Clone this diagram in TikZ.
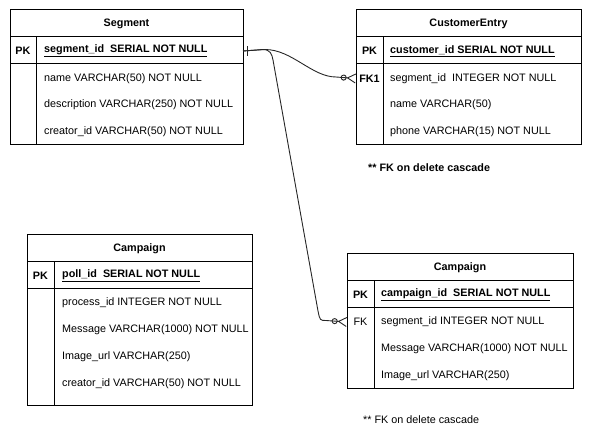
\documentclass[tikz,border=0pt]{standalone}
\usepackage{fontspec}
\setmainfont{Liberation Sans}
\usetikzlibrary{arrows.meta}

\tikzset{
    every node/.style={font=\fontsize{10.8}{12}\selectfont, inner sep=0pt, yshift=-1.5pt},
    tbl/.style={line width=1pt},
    hdr/.style={font=\fontsize{10.8}{12}\selectfont\bfseries},
    key/.style={font=\fontsize{10.8}{12}\selectfont\bfseries},
    field/.style={anchor=west},
    link/.style={line width=0.9pt, draw=black!85},
    many/.style={-{Circle[open,length=6pt,sep=0pt] Straight Barb[reversed,length=8pt,width=9pt]}}
}

\begin{document}
\begin{tikzpicture}[x=1pt, y=-1pt]
    \useasboundingbox (0,0) rectangle (591,442);

    % Segment
    \draw[tbl] (10,9) rectangle (243,144);
    \draw[tbl] (10,36) -- (243,36) (10,63) -- (243,63) (36,36) -- (36,144);
    \node[hdr] (segtitle) at (126.5,22.5) {Segment};
    \node[key] (segkey) at (23,49.5) {PK};
    \node[field, font=\fontsize{10.8}{12}\selectfont\bfseries] (segid) at (44,49.5) {\underline{segment\_id\ \ SERIAL NOT NULL}};
    \node[field] (segname) at (44,77) {name VARCHAR(50) NOT NULL};
    \node[field] (segdesc) at (44,103.5) {description VARCHAR(250) NOT NULL};
    \node[field] (segcreator) at (44,130.5) {creator\_id VARCHAR(50) NOT NULL};
    \coordinate (segR) at (243,49.5);

    % CustomerEntry
    \draw[tbl] (356,9) rectangle (581,144);
    \draw[tbl] (356,36) -- (581,36) (356,63) -- (581,63) (383,36) -- (383,144);
    \node[hdr] (custtitle) at (468.5,22.5) {CustomerEntry};
    \node[key] (custkey) at (369.5,49.5) {PK};
    \node[key] (custfk) at (369.5,77) {FK1};
    \node[field, font=\fontsize{10.8}{12}\selectfont\bfseries] (custid) at (390,49.5) {\underline{customer\_id SERIAL NOT NULL}};
    \node[field] (custseg) at (390,77) {segment\_id\ \ INTEGER NOT NULL};
    \node[field] (custname) at (390,103.5) {name VARCHAR(50)};
    \node[field] (custphone) at (390,130.5) {phone VARCHAR(15) NOT NULL};
    \coordinate (custL) at (356,77);
    \node[field, font=\fontsize{10.8}{12}\selectfont\bfseries] (custnote) at (368,166) {** FK on delete cascade};

    % Campaign (left)
    \draw[tbl] (27,234) rectangle (252,405);
    \draw[tbl] (27,261) -- (252,261) (27,288) -- (252,288) (54,261) -- (54,405);
    \node[hdr] (polltitle) at (139.5,247.5) {Campaign};
    \node[key] (pollkey) at (40.5,274.5) {PK};
    \node[field, font=\fontsize{10.8}{12}\selectfont\bfseries] (pollid) at (62,274.5) {\underline{poll\_id\ \ SERIAL NOT NULL}};
    \node[field] (pollproc) at (62,301.5) {process\_id INTEGER NOT NULL};
    \node[field] (pollmsg) at (62,328.5) {Message VARCHAR(1000) NOT NULL};
    \node[field] (pollimg) at (62,355.5) {Image\_url VARCHAR(250)};
    \node[field] (pollcreator) at (62,382.5) {creator\_id VARCHAR(50) NOT NULL};

    % Campaign (right)
    \draw[tbl] (347,253) rectangle (573,388);
    \draw[tbl] (347,280) -- (573,280) (347,307) -- (573,307) (374,280) -- (374,388);
    \node[hdr] (camptitle) at (460,266.5) {Campaign};
    \node[key] (campkey) at (360.5,293.5) {PK};
    \node (campfk) at (360.5,320.5) {FK};
    \node[field, font=\fontsize{10.8}{12}\selectfont\bfseries] (campid) at (381,293.5) {\underline{campaign\_id\ \ SERIAL NOT NULL}};
    \node[field] (campseg) at (381,320.5) {segment\_id INTEGER NOT NULL};
    \node[field] (campmsg) at (381,347.5) {Message VARCHAR(1000) NOT NULL};
    \node[field] (campimg) at (381,374.5) {Image\_url VARCHAR(250)};
    \coordinate (campL) at (347,320.5);
    \node[field] (campnote) at (363,418) {** FK on delete cascade};

    % relations
    \draw[link, many] (segR) -- (265,49.5) .. controls (292,49.5) and (312,77) .. (336,77) -- (custL);
    \draw[link, many] (segR) -- (263,49.5) .. controls (270,49.5) and (272,54) .. (273,60)
        -- (318,311) .. controls (320,320.5) .. (326,320.5) -- (campL);
    \draw[link] ([xshift=4pt]segR) ++(0,-5) -- ++(0,10);
\end{tikzpicture}
\end{document}
